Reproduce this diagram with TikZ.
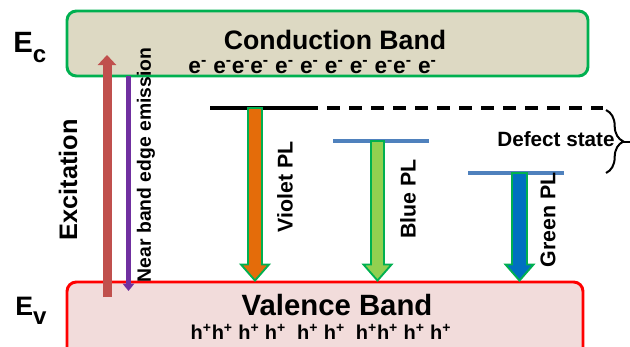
\documentclass[tikz,border=0pt]{standalone}
\usepackage{fontspec}
\setmainfont{Liberation Sans}
\usetikzlibrary{positioning,calc,arrows.meta,decorations.pathreplacing}

\definecolor{cbfill}{HTML}{DDD9C3}
\definecolor{cbline}{HTML}{00B050}
\definecolor{vbfill}{HTML}{F2DCDB}
\definecolor{vbline}{HTML}{FF0000}
\definecolor{excred}{HTML}{C0504D}
\definecolor{nbepurple}{HTML}{7030A0}
\definecolor{plorange}{HTML}{E46C0A}
\definecolor{pllime}{HTML}{92D050}
\definecolor{plblue}{HTML}{0070C0}
\definecolor{lvlblue}{HTML}{4F81BD}

\newcommand{\elec}{e\textsuperscript{-}}
\newcommand{\hole}{h\textsuperscript{+}}
% fat outlined arrow from a level down to the valence band
\newcommand{\plarrow}[4]{%
	\filldraw[plbar,fill=#3] ($(#1)+(-#4,0)$) -- ($(#2)+(-#4,-16)$) -- ($(#2)+(-14,-16)$) -- (#2)
	-- ($(#2)+(14,-16)$) -- ($(#2)+(#4,-16)$) -- ($(#1)+(#4,0)$) -- cycle;}

\begin{document}
\begin{tikzpicture}[x=0.75pt,y=-0.75pt,font=\bfseries]
	\tikzstyle{band} = [rectangle,rounded corners=7pt,line width=2.2pt,inner sep=0pt]
	\tikzstyle{lvl} = [line width=2.4pt]
	\tikzstyle{plbar} = [draw=cbline,line width=1.4pt,line join=miter]
	\tikzstyle{vlabel} = [inner sep=0pt,rotate=90]

	\clip (0,0) rectangle (630,346);

	\node (cb) [band,fill=cbfill,draw=cbline,minimum width=390.75pt,minimum height=48.75pt] at (327.5,43.5) {};
	\node (vb) [band,fill=vbfill,draw=vbline,minimum width=387pt,minimum height=60pt] at (325,322) {};

	\node (cbtext) [anchor=base,inner sep=0pt,font=\bfseries\fontsize{20}{24}\selectfont] at (335,50) {Conduction Band};
	\node (erow) [anchor=base,inner sep=0pt,font=\bfseries\fontsize{17}{18}\selectfont] at (312.5,74) {\elec{} \elec\elec\elec{} \elec{} \elec{} \elec{} \elec{} \elec\elec{} \elec};
	\node (vbtext) [anchor=base,inner sep=0pt,font=\bfseries\fontsize{22}{26}\selectfont] at (337,315) {Valence Band};
	\node (hrow) [anchor=base,inner sep=0pt,font=\bfseries\fontsize{15}{17}\selectfont] at (321,339) {\hole\hole{} \hole{} \hole~ \hole{} \hole~ \hole\hole{} \hole{} \hole};

	\node (ec) [anchor=base west,inner sep=0pt,font=\bfseries\fontsize{22}{24}\selectfont] at (13,53) {E\raisebox{-7.5pt}{\fontsize{18}{18}\selectfont c}};
	\node (ev) [anchor=base west,inner sep=0pt,font=\bfseries\fontsize{20}{24}\selectfont] at (15,315) {E\raisebox{-7pt}{\fontsize{18}{18}\selectfont v}};

	% excitation and near band edge emission
	\coordinate (exc-bot) at (107,297);
	\coordinate (exc-top) at (107,55);
	\draw[excred,line width=6.75pt,-{Triangle[width=13.5pt,length=7.5pt]}] (exc-bot) -- (exc-top);
	\coordinate (nbe-top) at (128.5,76);
	\coordinate (nbe-bot) at (128.5,291);
	\draw[nbepurple,line width=3.4pt,-{Triangle[width=8.5pt,length=5.5pt]}] (nbe-top) -- (nbe-bot);

	\node (exc) [vlabel,font=\bfseries\fontsize{19}{19}\selectfont] at (68,180) {Excitation};
	\node (nbe) [vlabel,font=\bfseries\fontsize{14.5}{15}\selectfont] at (146,165) {Near band edge emission};

	% defect levels
	\draw[lvl] (210,108) -- (305,108);
	\draw[lvl,dash pattern=on 9.75pt off 6.75pt] (305,108) -- (603,108);
	\draw[lvl,lvlblue] (333,141) -- (429,141);
	\draw[lvl,lvlblue] (468,173) -- (564,173);

	\coordinate (violet) at (255,108);
	\coordinate (blue) at (377.5,141);
	\coordinate (green) at (519.5,173);
	\coordinate (violet-end) at (violet |- vb.north);
	\coordinate (blue-end) at (blue |- vb.north);
	\coordinate (green-end) at (green |- vb.north);
	\plarrow{violet}{violet-end}{plorange}{7}
	\plarrow{blue}{blue-end}{pllime}{6.5}
	\plarrow{green}{green-end}{plblue}{7.5}

	\node (vpl) [vlabel,font=\bfseries\fontsize{16}{16}\selectfont] at (285,187) {Violet PL};
	\node (bpl) [vlabel,font=\bfseries\fontsize{16}{16}\selectfont] at (408,199) {Blue PL};
	\node (gpl) [vlabel,font=\bfseries\fontsize{16}{16}\selectfont] at (548,220) {Green PL};

	% brace for the defect states
	\coordinate (br-top) at (606,110);
	\coordinate (br-bot) at (606,173);
	\coordinate (br-tip) at (623,141.5);
	\coordinate (br-end) at (630,141.5);
	\draw[line width=1.5pt,decorate,decoration={brace,amplitude=13pt}] (br-top) -- (br-bot);
	\draw[line width=1.5pt] (br-tip) -- (br-end);
	\node (defect) [inner sep=0pt,font=\bfseries\fontsize{15.5}{16}\selectfont] at (556,139) {Defect state};
\end{tikzpicture}
\end{document}
